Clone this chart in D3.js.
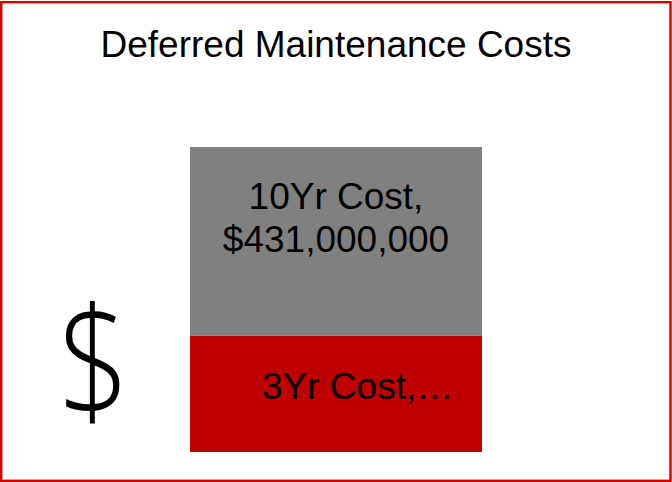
<!DOCTYPE html>
<html>
<head>
<meta charset="utf-8">
<script src="https://cdn.jsdelivr.net/npm/d3@7"></script>
<style>
  html, body { margin: 0; padding: 0; background: #fff; }
  text { font-family: "Liberation Sans", Arial, sans-serif; fill: #000; }
</style>
</head>
<body>
<div class="chart"></div>
<script>
// data
var categories = ["Deferred Maintenance"];
var seriesNames = ["3Yr Cost", "10Yr Cost"];
var threeYr = [265000000];
var tenYr = [431000000];
var labels3 = ["3Yr Cost,\u2026"];
var labels10 = [["10Yr Cost,", "$431,000,000"]];

var width = 672;
var height = 482;
var colors = ["#C00000", "#808080"];
var fontSize = "37px";

var svg = d3.select(".chart")
            .append("svg")
            .attr("width", width)
            .attr("height", height);

// border
svg.append("rect")
   .attr("x", 1.2)
   .attr("y", 2.2)
   .attr("width", 669.3)
   .attr("height", 478.6)
   .attr("fill", "#fff")
   .attr("stroke", "#D00000")
   .attr("stroke-width", 2.4);

// title
svg.append("text")
   .attr("x", 336)
   .attr("y", 57)
   .attr("text-anchor", "middle")
   .style("font-size", fontSize)
   .text("Deferred Maintenance Costs");

// stack
var rows = categories.map((c, i) => ({cat: c, "3Yr Cost": threeYr[i], "10Yr Cost": tenYr[i]}));
var stacked = d3.stack().keys(seriesNames)(rows);

var xScale = d3.scaleBand()
               .domain(categories)
               .range([190, 482])
               .padding(0);
var yScale = d3.scaleLinear()
               .domain([0, 700000000])
               .range([452, 145.25]);

svg.selectAll("g.series")
   .data(stacked)
   .enter()
   .append("g")
   .attr("class", "series")
   .attr("fill", (d, i) => colors[i])
   .selectAll("rect")
   .data(d => d)
   .enter()
   .append("rect")
   .attr("x", d => xScale(d.data.cat))
   .attr("y", d => yScale(d[1]))
   .attr("width", xScale.bandwidth())
   .attr("height", d => yScale(d[0]) - yScale(d[1]));

// data labels
categories.forEach((c, i) => {
  var cx = xScale(c) + xScale.bandwidth() / 2;
  var redMid = (yScale(stacked[0][i][0]) + yScale(stacked[0][i][1])) / 2;
  var grayMid = (yScale(stacked[1][i][0]) + yScale(stacked[1][i][1])) / 2;

  svg.append("text")
     .attr("x", xScale(c) + 72)
     .attr("y", redMid + 5)
     .style("font-size", fontSize)
     .text(labels3[i]);

  var t = svg.append("text")
             .attr("text-anchor", "middle")
             .style("font-size", fontSize);
  labels10[i].forEach((line, j) => {
    t.append("tspan")
     .attr("x", cx)
     .attr("y", grayMid - 32 + j * 42.5)
     .text(line);
  });
});

// y-axis title
svg.append("text")
   .attr("transform", "translate(94,415) scale(1,1.19)")
   .attr("text-anchor", "middle")
   .style("font-size", "126px")
   .style("font-weight", "300")
   .style("font-family", "'Open Sans', sans-serif")
   .text("$");
</script>
</body>
</html>
